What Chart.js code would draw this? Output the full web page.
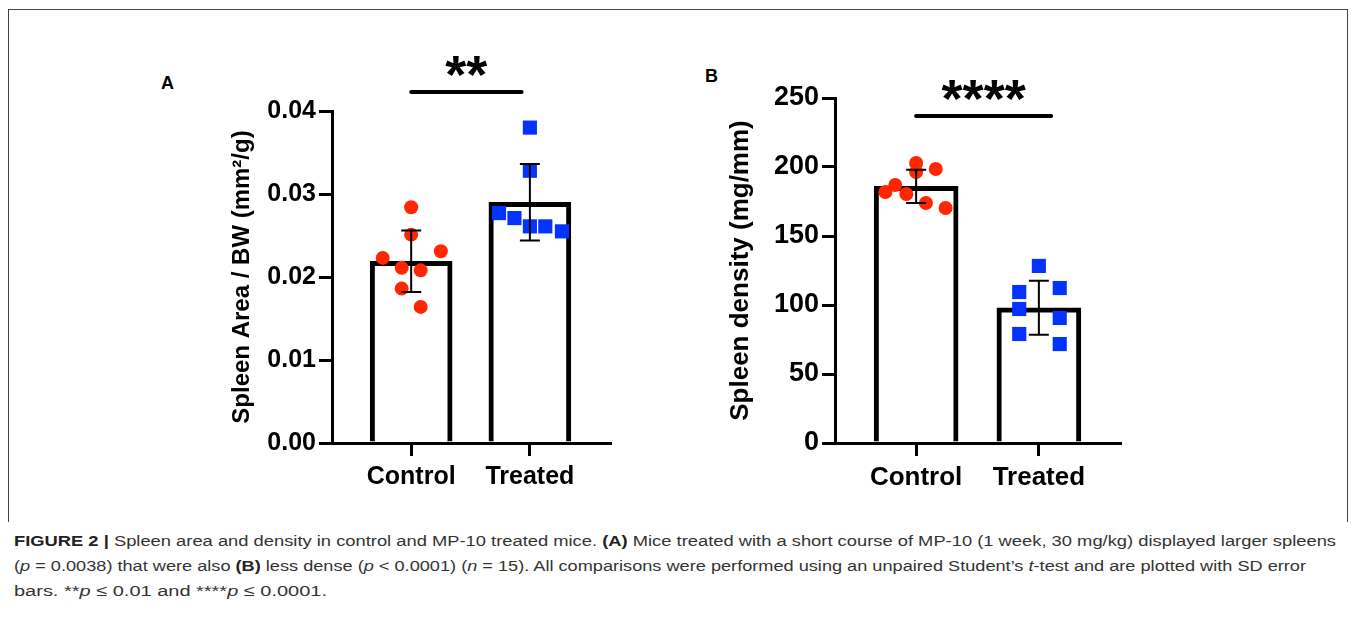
<!DOCTYPE html>
<html>
<head>
<meta charset="utf-8">
<script src="https://cdn.jsdelivr.net/npm/chart.js@4.4.1/dist/chart.umd.min.js"></script>
<style>
  body { margin: 0; background: #fff; width: 1355px; height: 628px; position: relative; overflow: hidden;
         font-family: "Liberation Sans", Arial, sans-serif; }
  .frame { position: absolute; left: 8px; top: 9px; width: 1338px; height: 512px; border: 1px solid #444; border-bottom: none; }
  canvas { position: absolute; }
  #chartA { left: 150px; top: 40px; }
  #chartB { left: 690px; top: 40px; }
  .panel { position: absolute; font-weight: bold; font-size: 18px; line-height: 18px; color: #000; }
  .caption { position: absolute; left: 14px; font-size: 15.5px; line-height: 25px; color: #333; white-space: nowrap; transform-origin: left center; }
  .caption b { color: #222; }
</style>
</head>
<body>
<div class="frame"></div>
<div class="panel" style="left:161px; top:74px;">A</div>
<div class="panel" style="left:705px; top:67px;">B</div>
<canvas id="chartA" width="470" height="460"></canvas>
<canvas id="chartB" width="440" height="460"></canvas>

<div class="caption" data-w="1322" style="top:528px;"><b>FIGURE 2 |</b> Spleen area and density in control and MP-10 treated mice. <b>(A)</b> Mice treated with a short course of MP-10 (1 week, 30 mg/kg) displayed larger spleens</div>
<div class="caption" data-w="1292" style="top:553px;">(<i>p</i> = 0.0038) that were also <b>(B)</b> less dense (<i>p</i> &lt; 0.0001) (<i>n</i> = 15). All comparisons were performed using an unpaired Student’s <i>t</i>-test and are plotted with SD error</div>
<div class="caption" data-w="313" style="top:578px;">bars. **<i>p</i> ≤ 0.01 and ****<i>p</i> ≤ 0.0001.</div>

<script>
// groups on the x axis
const groups = ["Control", "Treated"];
const groupPos = [0, 1];

// panel A - spleen area / body weight (mm2/g)
const areaMeans = [0.0219, 0.0290];
const areaSD = [0.0037, 0.0046];
const areaCtrlX = [0, 0, -0.24, 0.25, -0.08, 0.08, -0.08, 0.08];
const areaCtrlY = [0.0284, 0.0251, 0.0223, 0.0231, 0.0211, 0.0208, 0.0186, 0.0164];
const areaTreatX = [1, 1, 0.74, 0.87, 1, 1.13, 1.27];
const areaTreatY = [0.0380, 0.0328, 0.0277, 0.0271, 0.0261, 0.0261, 0.0255];
const areaTicks = [0, 0.01, 0.02, 0.03, 0.04];

// panel B - spleen density (mg/mm)
const densMeans = [186, 98];
const densSD = [12, 19.5];
const densCtrlX = [0, 0.16, 0, -0.17, -0.25, -0.08, 0.08, 0.24];
const densCtrlY = [202.9, 198.6, 196.4, 187.0, 181.9, 180.4, 173.9, 170.3];
const densTreatX = [1, 0.84, 1.17, 0.84, 1.17, 0.84, 1.17];
const densTreatY = [128.3, 109.4, 112.3, 97.1, 90.6, 79.0, 71.7];
const densTicks = [0, 50, 100, 150, 200, 250];

const sigLabels = ["**", "****"];

const FONT = '"Liberation Sans", Arial, sans-serif';
Chart.defaults.font.family = FONT;
Chart.defaults.color = "#000";

// error bars (mean +/- SD) and the significance bracket
const extras = {
  id: "extras",
  afterDatasetsDraw(chart, args, o) {
    const { ctx } = chart;
    const xs = chart.scales.x, ys = chart.scales.y;
    ctx.save();
    ctx.strokeStyle = "#000";
    ctx.lineWidth = 2;
    o.means.forEach((m, i) => {
      const px = xs.getPixelForValue(groupPos[i]);
      const top = ys.getPixelForValue(m + o.sd[i]);
      const bot = ys.getPixelForValue(m - o.sd[i]);
      ctx.beginPath();
      ctx.moveTo(px, top); ctx.lineTo(px, bot);
      ctx.moveTo(px - o.cap / 2, top); ctx.lineTo(px + o.cap / 2, top);
      ctx.moveTo(px - o.cap / 2, bot); ctx.lineTo(px + o.cap / 2, bot);
      ctx.stroke();
    });
    // bracket
    const y = ys.getPixelForValue(o.sigY);
    const x1 = xs.getPixelForValue(o.sigFrom), x2 = xs.getPixelForValue(o.sigTo);
    ctx.lineWidth = 4;
    ctx.lineCap = "round";
    ctx.beginPath(); ctx.moveTo(x1, y); ctx.lineTo(x2, y); ctx.stroke();
    ctx.fillStyle = "#000";
    ctx.font = "bold " + o.starSize + "px " + FONT;
    ctx.textAlign = "center";
    ctx.textBaseline = "alphabetic";
    ctx.fillText(o.label, (x1 + x2) / 2, y + 1);
    ctx.restore();
  }
};

function makeChart(id, c) {
  return new Chart(document.getElementById(id), {
    type: "bar",
    data: {
      datasets: [
        {
          type: "bar",
          data: groupPos.map((p, i) => ({ x: p, y: c.means[i] })),
          backgroundColor: "#fff",
          borderColor: "#000",
          borderWidth: 5,
          barThickness: c.barWidth,
          order: 3
        },
        {
          type: "scatter",
          data: c.ctrlX.map((v, i) => ({ x: v, y: c.ctrlY[i] })),
          pointStyle: "circle",
          pointRadius: 7,
          backgroundColor: "#FF2600",
          borderWidth: 0,
          order: 1
        },
        {
          type: "scatter",
          data: c.treatX.map((v, i) => ({ x: v, y: c.treatY[i] })),
          pointStyle: "rect",
          pointRadius: 10,
          backgroundColor: "#0433FF",
          borderWidth: 0,
          order: 1
        }
      ]
    },
    options: {
      responsive: false,
      animation: false,
      layout: { padding: { top: c.padTop, right: 7, left: 0, bottom: 0 } },
      plugins: {
        legend: { display: false },
        tooltip: { enabled: false },
        extras: {
          means: c.means, sd: c.sd, cap: 20,
          sigFrom: c.sigFrom, sigTo: c.sigTo, sigY: c.sigY,
          label: c.sigLabel, starSize: 54
        }
      },
      scales: {
        x: {
          type: "linear",
          min: c.xMin, max: c.xMax,
          offset: false,
          afterBuildTicks: s => { s.ticks = groupPos.map(v => ({ value: v })); },
          afterFit: s => { s.height = 57; },
          border: { display: true, width: 3, color: "#000" },
          grid: { drawOnChartArea: false, drawTicks: true, tickLength: 13, lineWidth: 3, color: "#000", offset: false },
          ticks: {
            padding: 6,
            font: { size: c.xFont, weight: "bold" },
            color: "#000",
            callback: (v, i) => groups[i]
          }
        },
        y: {
          min: c.yTicks[0], max: c.yTicks[c.yTicks.length - 1],
          afterBuildTicks: s => { s.ticks = c.yTicks.map(v => ({ value: v })); },
          afterFit: s => { s.width = c.yWidth; },
          border: { display: true, width: 3, color: "#000" },
          grid: { drawOnChartArea: false, drawTicks: true, tickLength: 13, lineWidth: 3, color: "#000" },
          ticks: {
            padding: 3,
            font: { size: c.tickFont, weight: "bold" },
            color: "#000",
            callback: v => c.fmt(v)
          },
          title: {
            display: true,
            text: c.title,
            font: { size: c.titleFont, weight: "bold" },
            color: "#000",
            padding: { top: c.titlePad, bottom: 0 }
          }
        }
      }
    },
    plugins: [extras]
  });
}

makeChart("chartA", {
  means: areaMeans, sd: areaSD,
  ctrlX: areaCtrlX, ctrlY: areaCtrlY, treatX: areaTreatX, treatY: areaTreatY,
  yTicks: areaTicks, fmt: v => v.toFixed(2),
  title: "Spleen Area / BW (mm²/g)",
  xMin: -0.667, xMax: 1.675, barWidth: 82,
  padTop: 71, yWidth: 182, titlePad: 78,
  tickFont: 25, titleFont: 24, xFont: 25,
  sigFrom: 0, sigTo: 0.93, sigY: 0.0423, sigLabel: sigLabels[0]
});

makeChart("chartB", {
  means: densMeans, sd: densSD,
  ctrlX: densCtrlX, ctrlY: densCtrlY, treatX: densTreatX, treatY: densTreatY,
  yTicks: densTicks, fmt: v => String(v),
  title: "Spleen density (mg/mm)",
  xMin: -0.661, xMax: 1.661, barWidth: 84,
  padTop: 58, yWidth: 145, titlePad: 35,
  tickFont: 27, titleFont: 26, xFont: 26,
  sigFrom: 0, sigTo: 1.1, sigY: 237, sigLabel: sigLabels[1]
});

// squeeze caption lines to the measured widths
document.querySelectorAll(".caption").forEach(el => {
  const w = el.getBoundingClientRect().width;
  el.style.transform = "scaleX(" + (Number(el.dataset.w) / w) + ")";
});
</script>
</body>
</html>
